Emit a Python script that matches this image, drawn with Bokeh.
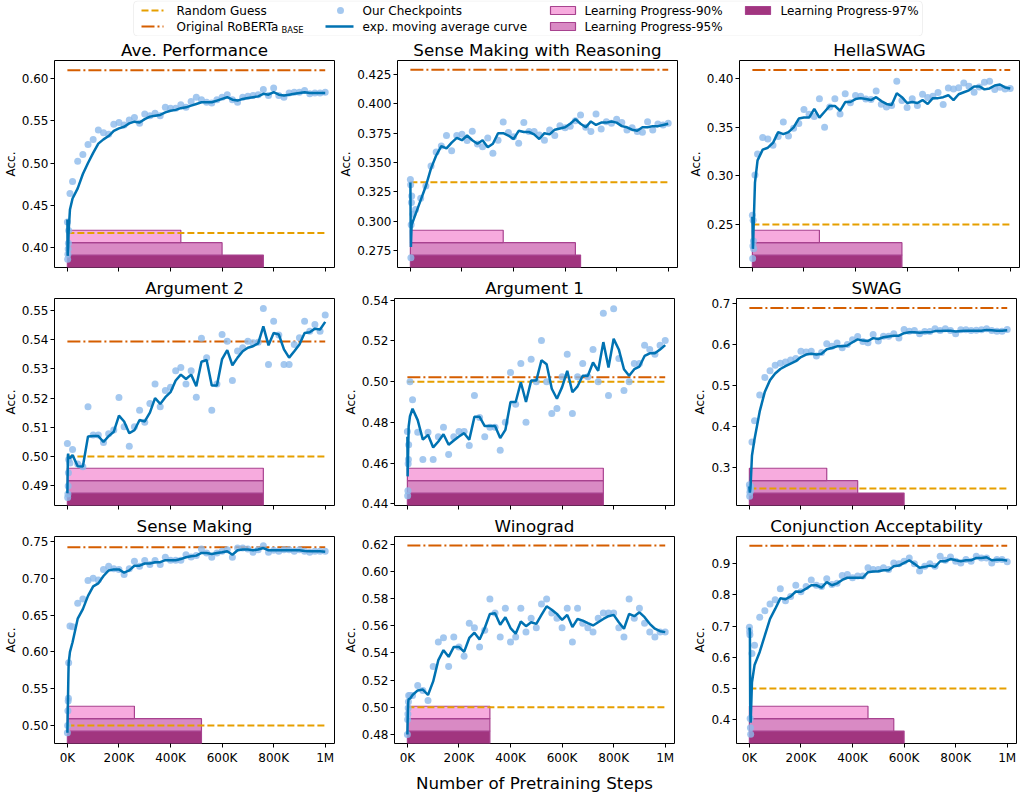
from bokeh.plotting import figure
from bokeh.layouts import column, row
from bokeh.models import FixedTicker, Range1d, BoxAnnotation, CustomLabelingPolicy
from bokeh.embed import file_html
from bokeh.resources import INLINE
from bokeh.core.properties import value

FONT = "DejaVu Sans"

# ---------------- data ----------------
steps_k = [0, 1, 2, 3, 4, 5, 10, 20, 40, 60, 80, 100, 120, 140, 160, 180, 200,
           220, 240, 260, 280, 300, 320, 340, 360, 380, 400, 420, 440, 460, 480,
           500, 520, 540, 560, 580, 600, 620, 640, 660, 680, 700, 720, 740, 760,
           780, 800, 820, 840, 860, 880, 900, 920, 940, 960, 980, 1000]

x_ticks = [0, 200, 400, 600, 800, 1000]
x_labels = ["0K", "200K", "400K", "600K", "800K", "1M"]

titles = ["Ave. Performance", "Sense Making with Reasoning", "HellaSWAG",
          "Argument 2", "Argument 1", "SWAG",
          "Sense Making", "Winograd", "Conjunction Acceptability"]

ave_acc = [0.430, 0.386, 0.392, 0.398, 0.405, 0.420, 0.464, 0.478,
           0.502, 0.510, 0.522, 0.528, 0.539, 0.536, 0.534, 0.546, 0.548, 0.545,
           0.551, 0.554, 0.547, 0.558, 0.556, 0.559, 0.556, 0.566, 0.565, 0.565,
           0.569, 0.566, 0.573, 0.578, 0.575, 0.572, 0.571, 0.575, 0.578, 0.581,
           0.575, 0.572, 0.578, 0.579, 0.580, 0.581, 0.587, 0.580, 0.589, 0.580,
           0.578, 0.583, 0.584, 0.584, 0.586, 0.582, 0.583, 0.583, 0.584]
ave_ema = [0.433, 0.390, 0.395, 0.400, 0.410, 0.420, 0.445, 0.458,
           0.470, 0.487, 0.500, 0.512, 0.523, 0.528, 0.532, 0.538, 0.541, 0.543,
           0.547, 0.549, 0.548, 0.552, 0.555, 0.556, 0.557, 0.560, 0.562, 0.563,
           0.565, 0.566, 0.568, 0.570, 0.572, 0.572, 0.572, 0.574, 0.576, 0.578,
           0.575, 0.574, 0.576, 0.577, 0.578, 0.579, 0.582, 0.581, 0.584, 0.581,
           0.580, 0.581, 0.582, 0.583, 0.584, 0.583, 0.583, 0.583, 0.583]

smr_acc = [0.3355, 0.331, 0.269, 0.297, 0.316, 0.3215, 0.306, 0.310,
           0.3195, 0.330, 0.347, 0.359, 0.364, 0.373, 0.360, 0.373, 0.374, 0.3688,
           0.3766, 0.3657, 0.3634, 0.371, 0.358, 0.369, 0.3845, 0.3755, 0.372, 0.3665,
           0.384, 0.3764, 0.3764, 0.3735, 0.369, 0.3778, 0.373, 0.3814, 0.3797, 0.381,
           0.3856, 0.3904, 0.380, 0.3764, 0.3913, 0.3786, 0.3848, 0.3834, 0.3868, 0.3842,
           0.3778, 0.3797, 0.3764, 0.3758, 0.3848, 0.3778, 0.3828, 0.382, 0.3834]
smr_ema = [0.333, 0.300, 0.278, 0.285, 0.292, 0.297, 0.300, 0.306,
           0.318, 0.330, 0.345, 0.356, 0.364, 0.362, 0.367, 0.371, 0.369, 0.373,
           0.369, 0.366, 0.369, 0.363, 0.366, 0.375, 0.375, 0.373, 0.370, 0.377,
           0.376, 0.376, 0.374, 0.370, 0.375, 0.374, 0.378, 0.379, 0.380, 0.383,
           0.387, 0.383, 0.380, 0.385, 0.382, 0.384, 0.384, 0.385, 0.384, 0.381,
           0.380, 0.378, 0.377, 0.380, 0.380, 0.381, 0.381, 0.382, 0.383]

hella_acc = [0.2595, 0.215, 0.228, 0.2544, 0.233, 0.225, 0.301, 0.3225,
             0.3395, 0.338, 0.3316, 0.3405, 0.3554, 0.341, 0.349, 0.354, 0.3684, 0.3633,
             0.361, 0.3793, 0.350, 0.371, 0.3793, 0.3636, 0.3844, 0.3752, 0.3827, 0.382,
             0.379, 0.3786, 0.3874, 0.3738, 0.371, 0.3724, 0.3973, 0.3776, 0.3704, 0.3793,
             0.3724, 0.384, 0.3806, 0.382, 0.3857, 0.3735, 0.3905, 0.3895, 0.3908, 0.3956,
             0.3922, 0.386, 0.3915, 0.3963, 0.3973, 0.389, 0.3912, 0.3895, 0.3898]
hella_ema = [0.258, 0.240, 0.225, 0.230, 0.240, 0.250, 0.293, 0.316,
             0.327, 0.329, 0.334, 0.345, 0.343, 0.345, 0.350, 0.359, 0.360, 0.360,
             0.369, 0.360, 0.366, 0.372, 0.372, 0.367, 0.376, 0.376, 0.379, 0.380,
             0.379, 0.378, 0.381, 0.377, 0.374, 0.373, 0.385, 0.381, 0.375, 0.376,
             0.375, 0.378, 0.374, 0.380, 0.380, 0.381, 0.383, 0.378, 0.384, 0.386,
             0.388, 0.392, 0.392, 0.389, 0.390, 0.393, 0.394, 0.391, 0.390]

arg2_acc = [0.5045, 0.486, 0.4872, 0.490, 0.4945, 0.499, 0.4978, 0.5024,
            0.4975, 0.4965, 0.517, 0.5074, 0.5074, 0.5048, 0.5078, 0.5091, 0.5202, 0.5102,
            0.5035, 0.5102, 0.5158, 0.5117, 0.5181, 0.5248, 0.517, 0.5226, 0.5237, 0.5293,
            0.5304, 0.5248, 0.5293, 0.5203, 0.5404, 0.5338, 0.5158, 0.5248, 0.5417, 0.5394,
            0.526, 0.5361, 0.5372, 0.5394, 0.5389, 0.5391, 0.5506, 0.5315, 0.5462, 0.5415,
            0.5315, 0.5315, 0.5383, 0.5406, 0.5462, 0.5428, 0.5451, 0.5428, 0.5484]
arg2_ema = [0.4875, 0.494, 0.5005, 0.501, 0.500, 0.4995, 0.4995, 0.5005,
            0.4967, 0.4966, 0.5069, 0.507, 0.507, 0.505, 0.507, 0.5085, 0.514, 0.512,
            0.508, 0.509, 0.5125, 0.512, 0.515, 0.520, 0.518, 0.5203, 0.522, 0.526,
            0.528, 0.5265, 0.528, 0.524, 0.5324, 0.533, 0.5243, 0.5243, 0.5333, 0.5364,
            0.5312, 0.5338, 0.536, 0.5372, 0.5377, 0.5387, 0.5445, 0.538, 0.5422, 0.5417,
            0.5366, 0.5338, 0.536, 0.5383, 0.5422, 0.5425, 0.5437, 0.5434, 0.546]

arg1_acc = [0.4755, 0.444, 0.4465, 0.4597, 0.4618, 0.469, 0.500, 0.4911,
            0.4752, 0.4618, 0.4752, 0.4618, 0.473, 0.4776, 0.4642, 0.473, 0.4755, 0.4755,
            0.4687, 0.4932, 0.4824, 0.473, 0.4776, 0.4776, 0.4663, 0.48, 0.5045, 0.4889,
            0.5089, 0.48, 0.511, 0.50, 0.5202, 0.50, 0.4844, 0.4868, 0.5024, 0.5134,
            0.4844, 0.5024, 0.5089, 0.5024, 0.5158, 0.50, 0.5335, 0.4932, 0.5358, 0.5113,
            0.4956, 0.50, 0.5089, 0.5089, 0.5179, 0.5158, 0.5134, 0.5179, 0.5202]
arg1_ema = [0.473, 0.4535, 0.460, 0.466, 0.472, 0.478, 0.483, 0.4867,
            0.4811, 0.4715, 0.4739, 0.4677, 0.4706, 0.4742, 0.469, 0.4711, 0.4731, 0.4747,
            0.4715, 0.4827, 0.4827, 0.4782, 0.4782, 0.4782, 0.4723, 0.4763, 0.490, 0.490,
            0.4997, 0.490, 0.5005, 0.5005, 0.5105, 0.5085, 0.4965, 0.4916, 0.4973, 0.5053,
            0.4948, 0.4977, 0.5029, 0.5029, 0.5094, 0.5053, 0.5194, 0.5069, 0.521, 0.5158,
            0.5061, 0.5029, 0.5061, 0.5074, 0.5126, 0.5139, 0.5139, 0.5158, 0.5179]

swag_acc = [0.259, 0.231, 0.2407, 0.250, 0.245, 0.255, 0.3625, 0.4146,
            0.477, 0.5196, 0.5357, 0.549, 0.554, 0.557, 0.562, 0.5653, 0.583, 0.5814,
            0.583, 0.5717, 0.5798, 0.6014, 0.595, 0.603, 0.5918, 0.5998, 0.611, 0.619,
            0.607, 0.604, 0.6238, 0.6078, 0.6198, 0.6198, 0.6254, 0.615, 0.6359, 0.6319,
            0.6335, 0.6254, 0.631, 0.631, 0.6375, 0.6335, 0.6375, 0.6335, 0.6254, 0.6351,
            0.6351, 0.6335, 0.6343, 0.6351, 0.6375, 0.6335, 0.6319, 0.6319, 0.6359]
swag_ema = [0.255, 0.245, 0.240, 0.245, 0.250, 0.260, 0.330, 0.370,
            0.437, 0.485, 0.513, 0.529, 0.540, 0.547, 0.553, 0.559, 0.569, 0.575,
            0.577, 0.575, 0.577, 0.588, 0.591, 0.595, 0.595, 0.597, 0.605, 0.612,
            0.609, 0.608, 0.615, 0.613, 0.617, 0.619, 0.621, 0.621, 0.627, 0.629,
            0.629, 0.628, 0.629, 0.629, 0.632, 0.632, 0.633, 0.633, 0.631, 0.632,
            0.633, 0.633, 0.633, 0.633, 0.635, 0.634, 0.633, 0.633, 0.634]

sm_acc = [0.490, 0.500, 0.520, 0.533, 0.537, 0.585, 0.635, 0.634,
          0.666, 0.6716, 0.697, 0.700, 0.6976, 0.712, 0.7164, 0.7128, 0.712, 0.705,
          0.7128, 0.723, 0.7164, 0.724, 0.7186, 0.724, 0.7186, 0.7285, 0.7245, 0.7245,
          0.7245, 0.732, 0.729, 0.731, 0.7397, 0.7343, 0.7285, 0.7343, 0.7366, 0.7388,
          0.7285, 0.741, 0.741, 0.7397, 0.7352, 0.7388, 0.7442, 0.7352, 0.7379, 0.7366,
          0.7388, 0.7388, 0.7366, 0.7388, 0.7366, 0.7352, 0.7366, 0.7366, 0.7366]
sm_ema = [0.490, 0.510, 0.530, 0.550, 0.570, 0.585, 0.600, 0.613,
          0.645, 0.658, 0.676, 0.689, 0.693, 0.703, 0.7106, 0.712, 0.712, 0.7075,
          0.7106, 0.717, 0.717, 0.720, 0.720, 0.7218, 0.7218, 0.7245, 0.7245, 0.7245,
          0.726, 0.7285, 0.7298, 0.7307, 0.7343, 0.7343, 0.733, 0.7343, 0.7352, 0.7366,
          0.732, 0.738, 0.739, 0.739, 0.738, 0.739, 0.741, 0.738, 0.738, 0.738,
          0.738, 0.738, 0.738, 0.738, 0.737, 0.7366, 0.7366, 0.7366, 0.736]

wino_acc = [0.480, 0.491, 0.495, 0.4995, 0.504, 0.5087, 0.5087, 0.5087,
            0.516, 0.5124, 0.505, 0.530, 0.548, 0.5512, 0.530, 0.5517, 0.5444, 0.5376,
            0.5619, 0.5585, 0.5444, 0.5566, 0.5796, 0.5694, 0.5517, 0.5728, 0.548, 0.5517,
            0.5728, 0.5553, 0.5655, 0.5585, 0.576, 0.5796, 0.5694, 0.5655, 0.5585, 0.5728,
            0.548, 0.5728, 0.5619, 0.5585, 0.5553, 0.5655, 0.5694, 0.5694, 0.5694, 0.5585,
            0.5517, 0.5796, 0.5655, 0.5728, 0.5619, 0.5553, 0.5517, 0.5553, 0.5553]
wino_ema = [0.480, 0.490, 0.498, 0.503, 0.505, 0.506, 0.5063, 0.509,
            0.5124, 0.513, 0.509, 0.519, 0.5347, 0.542, 0.5371, 0.5444, 0.5444, 0.5408,
            0.551, 0.5549, 0.5498, 0.5583, 0.5687, 0.5692, 0.5607, 0.5663, 0.5583, 0.5541,
            0.5631, 0.5597, 0.5626, 0.5614, 0.568, 0.5743, 0.5718, 0.5687, 0.5643, 0.568,
            0.559, 0.565, 0.5638, 0.5619, 0.5602, 0.5626, 0.565, 0.567, 0.568, 0.5626,
            0.5578, 0.5687, 0.567, 0.5699, 0.5663, 0.5614, 0.5578, 0.556, 0.5553]

conj_acc = [0.6966, 0.683, 0.672, 0.4038, 0.374, 0.353, 0.612, 0.6385,
            0.728, 0.7495, 0.7706, 0.7843, 0.820, 0.781, 0.795, 0.831, 0.810, 0.8266,
            0.8478, 0.831, 0.8266, 0.852, 0.833, 0.837, 0.8626, 0.8657, 0.8552, 0.8605,
            0.8605, 0.8869, 0.8816, 0.8816, 0.8869, 0.8816, 0.9027, 0.8996, 0.908, 0.9186,
            0.8996, 0.8763, 0.8922, 0.8996, 0.8922, 0.9239, 0.9112, 0.9218, 0.908, 0.9027,
            0.9133, 0.908, 0.9239, 0.9186, 0.9186, 0.9027, 0.9133, 0.9133, 0.906]
conj_ema = [0.695, 0.690, 0.680, 0.450, 0.410, 0.390, 0.520, 0.575,
            0.617, 0.670, 0.723, 0.755, 0.789, 0.786, 0.795, 0.811, 0.810, 0.820,
            0.831, 0.831, 0.8235, 0.841, 0.831, 0.837, 0.848, 0.855, 0.855, 0.855,
            0.855, 0.873, 0.875, 0.876, 0.879, 0.879, 0.892, 0.894, 0.903, 0.911,
            0.8996, 0.887, 0.890, 0.894, 0.890, 0.908, 0.908, 0.915, 0.911, 0.908,
            0.911, 0.911, 0.9186, 0.9186, 0.9207, 0.911, 0.913, 0.913, 0.910]

acc_series = [ave_acc, smr_acc, hella_acc, arg2_acc, arg1_acc, swag_acc, sm_acc, wino_acc, conj_acc]
ema_series = [ave_ema, smr_ema, hella_ema, arg2_ema, arg1_ema, swag_ema, sm_ema, wino_ema, conj_ema]

random_guess = [0.4172, 0.3333, 0.25, 0.50, 0.50, 0.25, 0.50, 0.50, 0.50]
roberta_base = [0.610, 0.429, 0.409, 0.5393, 0.5021, 0.688, 0.742, 0.619, 0.9577]
progress_90 = [440, 360, 260, 760, 760, 300, 260, 320, 460]
progress_95 = [600, 640, 580, 760, 760, 420, 520, 320, 560]
progress_97 = [760, 660, 580, 760, 760, 600, 520, 320, 600]

y_limits = [(0.3762, 0.6215), (0.2606, 0.4369), (0.2058, 0.4187),
            (0.4833, 0.5540), (0.4392, 0.5408), (0.2086, 0.7112),
            (0.4754, 0.7567), (0.4733, 0.6257), (0.3235, 0.9873)]
y_ticks = [[0.40, 0.45, 0.50, 0.55, 0.60],
           [0.275, 0.300, 0.325, 0.350, 0.375, 0.400, 0.425],
           [0.25, 0.30, 0.35, 0.40],
           [0.49, 0.50, 0.51, 0.52, 0.53, 0.54, 0.55],
           [0.44, 0.46, 0.48, 0.50, 0.52, 0.54],
           [0.3, 0.4, 0.5, 0.6, 0.7],
           [0.50, 0.55, 0.60, 0.65, 0.70, 0.75],
           [0.48, 0.50, 0.52, 0.54, 0.56, 0.58, 0.60, 0.62],
           [0.4, 0.5, 0.6, 0.7, 0.8, 0.9]]
y_tick_labels = [["0.40", "0.45", "0.50", "0.55", "0.60"],
                 ["0.275", "0.300", "0.325", "0.350", "0.375", "0.400", "0.425"],
                 ["0.25", "0.30", "0.35", "0.40"],
                 ["0.49", "0.50", "0.51", "0.52", "0.53", "0.54", "0.55"],
                 ["0.44", "0.46", "0.48", "0.50", "0.52", "0.54"],
                 ["0.3", "0.4", "0.5", "0.6", "0.7"],
                 ["0.50", "0.55", "0.60", "0.65", "0.70", "0.75"],
                 ["0.48", "0.50", "0.52", "0.54", "0.56", "0.58", "0.60", "0.62"],
                 ["0.4", "0.5", "0.6", "0.7", "0.8", "0.9"]]

# ---------------- style ----------------
C_RANDOM = "#E69F00"
C_ROBERTA = "#D55E00"
C_POINT = "#8DBAEB"
C_EMA = "#0072B2"
C_90 = "#F7ABDE"
C_95 = "#D98AC4"
C_97 = "#A1357F"
C_EDGE = "#A8428F"
DASH_RANDOM = "7 3"
DASH_ROBERTA = "13 3 2 3"
BAR_FRACS = [(0.12, 0.18), (0.06, 0.12), (0.0, 0.06)]

FRAME_W = 280
FRAME_H = 207
BORDER_L = [48, 58, 60]
BORDER_R = [2, 2, 1]


def make_panel(i):
    r, c = divmod(i, 3)
    lo, hi = y_limits[i]
    bottom_border = 44 if r == 2 else 7
    p = figure(frame_width=FRAME_W, frame_height=FRAME_H,
               x_range=Range1d(-50, 1036), y_range=Range1d(lo, hi),
               output_backend="svg", toolbar_location=None,
               min_border_left=BORDER_L[c], min_border_right=BORDER_R[c],
               min_border_top=22, min_border_bottom=bottom_border,
               background_fill_color="white", border_fill_color="white")
    p.title.text = titles[i]
    p.title.align = "center"
    p.title.text_font = FONT
    p.title.text_font_size = "16.7px"
    p.title.text_font_style = "normal"
    p.title.text_color = "black"
    p.title.standoff = 2
    p.outline_line_color = "black"
    p.outline_line_width = 1
    p.xgrid.visible = False
    p.ygrid.visible = False

    for ax in (p.xaxis[0], p.yaxis[0]):
        ax.axis_line_color = None
        ax.major_tick_line_color = "black"
        ax.major_tick_out = 4
        ax.major_tick_in = 0
        ax.minor_tick_line_color = None
        ax.major_label_text_font = FONT
        ax.major_label_text_font_size = "12px"
        ax.major_label_text_color = "black"
        ax.major_label_standoff = 2

    xa = p.xaxis[0]
    xa.ticker = FixedTicker(ticks=x_ticks)
    xa.major_label_overrides = {t: l for t, l in zip(x_ticks, x_labels)}
    if r < 2:
        # shared x axis: tick marks only, no labels (and no space reserved for them)
        xa.major_label_policy = CustomLabelingPolicy(code="return []")
        xa.major_label_text_font_size = "0px"
        xa.major_label_standoff = 0
    else:
        xa.major_label_standoff = 3
        if c == 1:
            xa.axis_label = "Number of Pretraining Steps"
            xa.axis_label_text_font = FONT
            xa.axis_label_text_font_size = "16.7px"
            xa.axis_label_text_font_style = "normal"
            xa.axis_label_text_color = "black"
            xa.axis_label_standoff = 5

    ya = p.yaxis[0]
    ya.ticker = FixedTicker(ticks=y_ticks[i])
    ya.major_label_overrides = {t: l for t, l in zip(y_ticks[i], y_tick_labels[i])}
    ya.axis_label = "Acc."
    ya.axis_label_text_font = FONT
    ya.axis_label_text_font_size = "12px"
    ya.axis_label_text_font_style = "normal"
    ya.axis_label_text_color = "black"
    ya.axis_label_standoff = 1

    # learning-progress bars (vertical extent in axes fraction)
    span = hi - lo
    bar_specs = [(progress_97[i], C_97, BAR_FRACS[2]),
                 (progress_95[i], C_95, BAR_FRACS[1]),
                 (progress_90[i], C_90, BAR_FRACS[0])]
    for right, fill, (f0, f1) in bar_specs:
        p.quad(left=[steps_k[0]], right=[right], bottom=[lo + f0 * span], top=[lo + f1 * span],
               fill_color=fill, line_color=C_EDGE, line_width=1.2)

    p.segment(x0=[steps_k[0]], x1=[steps_k[-1]], y0=[random_guess[i]], y1=[random_guess[i]],
              line_color=C_RANDOM, line_width=2, line_dash=DASH_RANDOM)
    p.segment(x0=[steps_k[0]], x1=[steps_k[-1]], y0=[roberta_base[i]], y1=[roberta_base[i]],
              line_color=C_ROBERTA, line_width=2, line_dash=DASH_ROBERTA)
    p.scatter(steps_k, acc_series[i], size=7, fill_color=C_POINT, fill_alpha=0.8,
              line_color=None)
    p.line(steps_k, ema_series[i], line_color=C_EMA, line_width=2.5)
    return p


panels = [make_panel(i) for i in range(9)]

# ---------------- legend ----------------
LW, LH = 1011, 36
leg = figure(width=LW, height=LH, x_range=Range1d(0, LW), y_range=Range1d(0, LH),
             output_backend="svg", toolbar_location=None, min_border=0,
             outline_line_color=None, background_fill_color="white",
             border_fill_color="white")
leg.axis.visible = False
leg.grid.visible = False
leg.add_layout(BoxAnnotation(left=133, right=922, bottom=0.5, top=35.5,
                             fill_color="white", fill_alpha=1.0, level="underlay",
                             line_color="#CCCCCC", line_width=1, border_radius=4))
R1, R2 = 26, 10
leg.segment(x0=[141], x1=[163], y0=[R1], y1=[R1], line_color=C_RANDOM,
            line_width=2, line_dash=DASH_RANDOM)
leg.segment(x0=[141], x1=[163], y0=[R2], y1=[R2], line_color=C_ROBERTA,
            line_width=2, line_dash=DASH_ROBERTA)
leg.scatter([340], [R1], size=7, fill_color=C_POINT, fill_alpha=0.8, line_color=None)
leg.segment(x0=[325], x1=[353], y0=[R2], y1=[R2], line_color=C_EMA, line_width=2.5)
leg.quad(left=[550, 550, 745], right=[575, 575, 770], bottom=[R1 - 4, R2 - 4, R1 - 4],
         top=[R1 + 4, R2 + 4, R1 + 4], fill_color=[C_90, C_95, C_97],
         line_color=C_EDGE, line_width=1.2)
leg.text(x=[176, 176, 362, 362, 584, 584, 780], y=[R1, R2, R1, R2, R1, R2, R1],
         text=["Random Guess", "Original RoBERTa", "Our Checkpoints",
               "exp. moving average curve", "Learning Progress-90%",
               "Learning Progress-95%", "Learning Progress-97%"],
         text_font=value(FONT), text_font_size=value("12px"), text_color="black",
         text_baseline="middle", text_align="left")
leg.text(x=[281], y=[R2 - 3.5], text=["BASE"], text_font=value(FONT),
         text_font_size=value("8.4px"), text_color="black",
         text_baseline="middle", text_align="left")

layout = column(leg,
                row(panels[0], panels[1], panels[2]),
                row(panels[3], panels[4], panels[5]),
                row(panels[6], panels[7], panels[8]))

open("out.html", "w").write(file_html(layout, INLINE, "Learning progress"))
